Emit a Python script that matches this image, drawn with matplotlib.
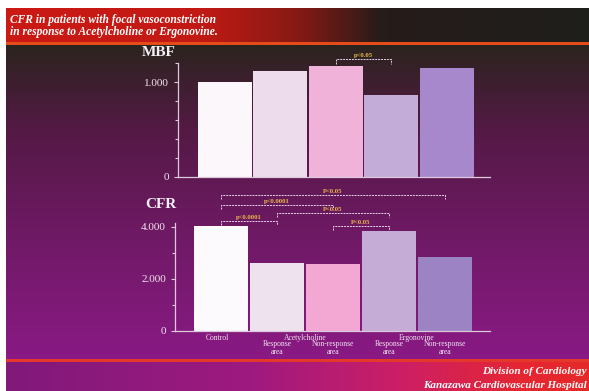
#!/usr/bin/env python3
"""
Slide-style bar chart: MBF and CFR in response to Acetylcholine / Ergonovine.
"""

import matplotlib
matplotlib.use("Agg")
import matplotlib.pyplot as plt
import numpy as np
from matplotlib.ticker import FixedLocator, FuncFormatter

plt.rcParams['font.family'] = ['Liberation Serif', 'DejaVu Serif']

# ---- data ----
groups = ["Control", "Acetylcholine", "Ergonovine"]
sub_labels = ["", "Response\narea", "Non-response\narea", "Response\narea", "Non-response\narea"]
mbf = [1.000, 1.116, 1.168, 0.863, 1.147]
cfr = [4.02, 2.62, 2.58, 3.85, 2.83]

mbf_pairs = [(2, 3)]
mbf_p = ["p<0.05"]
cfr_pairs = [(0, 4), (0, 2), (1, 3), (0, 1), (2, 3)]
cfr_p = ["P<0.05", "p<0.0001", "P<0.05", "p<0.0001", "P<0.05"]

title = "CFR in patients with focal vasoconstriction\nin response to Acetylcholine or Ergonovine."
footer = ["Division of Cardiology", "Kanazawa Cardiovascular Hospital"]

# ---- styling ----
mbf_colors = ['#fbf7fb', '#ecdcec', '#f0b2d8', '#c4acd8', '#a888cc']
cfr_colors = ['#fdfafd', '#efe2ef', '#f2a8d2', '#c4acd6', '#9c84c4']
axis_col = '#dccadc'
text_col = '#f2e4f0'
p_col = '#e8b848'

W, H = 589, 391
fig = plt.figure(figsize=(W / 100, H / 100), dpi=100)

# background gradient (slide look)
def ramp(pos, stops, cols):
    cols = np.array(cols)
    return np.stack([np.interp(pos, stops, cols[:, i]) for i in range(3)], axis=-1)

img = np.ones((H, W, 3))
xs = np.arange(W)
ys = np.arange(H)
head = ramp(xs, [0, 200, 300, 380, W], [(0.80, 0.10, 0.08), (0.76, 0.10, 0.08),
                                       (0.52, 0.10, 0.08), (0.15, 0.11, 0.10), (0.12, 0.12, 0.11)])
img[8:42, :, :] = head[None, :, :]
img[42:45, :, :] = (0.90, 0.30, 0.10)
body = ramp(ys[45:359], [45, 130, 230, 358], [(0.17, 0.14, 0.12), (0.33, 0.10, 0.27),
                                              (0.43, 0.10, 0.39), (0.54, 0.10, 0.52)])
img[45:359, :, :] = body[:, None, :]
img[359:362, :, :] = (0.90, 0.22, 0.18)
foot = ramp(xs, [0, 250, 400, 520, W], [(0.50, 0.10, 0.48), (0.62, 0.10, 0.50),
                                       (0.80, 0.12, 0.40), (0.90, 0.15, 0.20), (0.90, 0.16, 0.16)])
img[362:, :, :] = foot[None, :, :]
img[:8, :, :] = 1.0
img[:, :6, :] = 1.0

bg = fig.add_axes([0, 0, 1, 1])
bg.imshow(img, extent=[0, W, H, 0], aspect='auto', interpolation='bilinear')
bg.set_xlim(0, W)
bg.set_ylim(H, 0)
bg.axis('off')

bg.text(10, 26, title, color='white', fontsize=8.3, fontweight='bold', style='italic',
        va='center', ha='left', linespacing=1.1)
bg.text(587, 372, footer[0], color='white', fontsize=8, fontweight='bold', style='italic',
        va='center', ha='right')
bg.text(587, 385, footer[1], color='white', fontsize=8, fontweight='bold', style='italic',
        va='center', ha='right')
bg.text(142, 53, "MBF", color='#f6f0f6', fontsize=11, fontweight='bold', va='center', ha='left')
bg.text(145, 205, "CFR", color='#f6f0f6', fontsize=11, fontweight='bold', va='center', ha='left')


def style_axis(ax, ymax, majors, minors):
    ax.set_facecolor('none')
    for s in ['top', 'right']:
        ax.spines[s].set_visible(False)
    for s in ['left', 'bottom']:
        ax.spines[s].set_color(axis_col)
        ax.spines[s].set_linewidth(0.9)
    ax.set_ylim(0, ymax)
    ax.yaxis.set_major_locator(FixedLocator(majors))
    ax.yaxis.set_minor_locator(FixedLocator(minors))
    ax.yaxis.set_major_formatter(FuncFormatter(lambda v, _: "0" if v == 0 else f"{v:.3f}"))
    ax.tick_params(axis='y', which='major', colors=axis_col, labelcolor=text_col,
                   labelsize=8, length=3, width=0.8)
    ax.tick_params(axis='y', which='minor', colors=axis_col, length=2, width=0.8)
    ax.set_xticks([])


def bracket(ax, i, j, y, drop, label):
    ax.plot([i, i, j, j], [y - drop, y, y, y - drop], color='#e6d2ea', lw=0.7,
            ls=(0, (2, 1)), clip_on=False)
    ax.text((i + j) / 2, y + drop * 0.3, label, color=p_col, fontsize=4.8,
            fontweight='bold', ha='center', va='bottom', clip_on=False)


x = np.arange(len(mbf))

# MBF panel
ax1 = fig.add_axes([178 / W, (H - 177) / H, 312 / W, 114 / H])
ax1.bar(x, mbf, width=0.97, color=mbf_colors)
ax1.set_xlim(-0.84, 4.78)
style_axis(ax1, 1.2, [0, 1.0], [0.2, 0.4, 0.6, 0.8, 1.2])
for (i, j), lab in zip(mbf_pairs, mbf_p):
    bracket(ax1, i, j, 1.242, 0.05, lab)

# CFR panel
ax2 = fig.add_axes([175 / W, (H - 331) / H, 315 / W, 108 / H])
ax2.bar(x, cfr, width=0.97, color=cfr_colors)
ax2.set_xlim(-0.83, 4.81)
style_axis(ax2, 4.15, [0, 2.0, 4.0], [1.0, 3.0])
cfr_heights = [5.23, 4.85, 4.54, 4.23, 4.04]
for (i, j), lab, h in zip(cfr_pairs, cfr_p, cfr_heights):
    bracket(ax2, i, j, h, 0.15, lab)

# category labels below CFR panel
lab_kw = dict(xycoords=('data', 'axes fraction'), textcoords='offset points',
              color=text_col, fontsize=5.5, ha='center', va='top', linespacing=0.95)
ax2.annotate(groups[0], xy=(0, 0), xytext=(-3, -2), **lab_kw)
ax2.annotate(groups[1], xy=(1.5, 0), xytext=(0, -2), **lab_kw)
ax2.annotate(groups[2], xy=(3.5, 0), xytext=(0, -2), **lab_kw)
for k in range(1, len(sub_labels)):
    ax2.annotate(sub_labels[k], xy=(k, 0), xytext=(0, -6.5), **lab_kw)

fig.savefig("out.png", dpi=100)
print("[+] Saved out.png")
